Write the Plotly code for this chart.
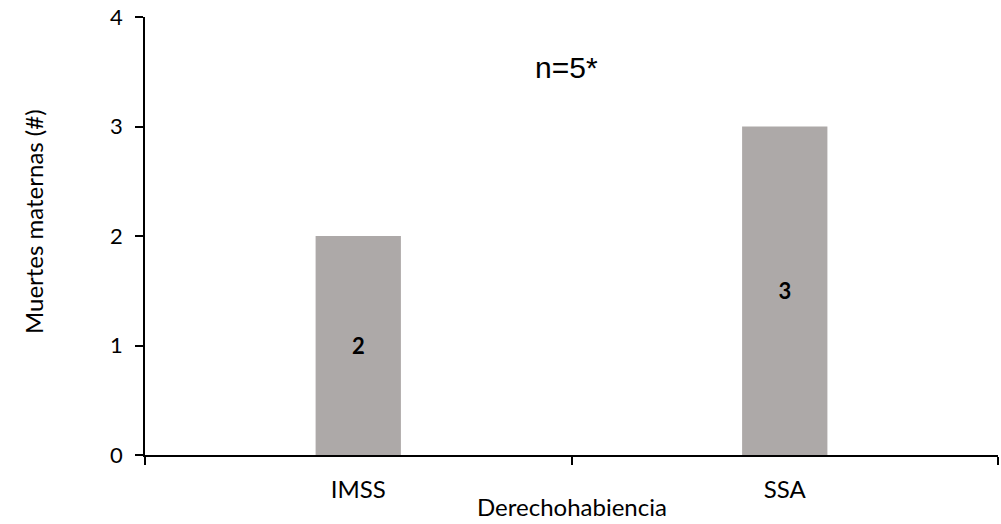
import plotly.graph_objects as go

categories = ["IMSS", "SSA"]
values = [2, 3]
y_ticks = [0, 1, 2, 3, 4]

L, R, T, B = 145, 3, 15, 69
W, H = 1001, 524
PW, PH = W - L - R, H - T - B

def px_x(x):
    return (x - L) / PW

def px_y(y):
    return (H - B - y) / PH

fig = go.Figure()
fig.add_trace(go.Bar(
    x=categories, y=values,
    width=0.2,
    marker=dict(color="#ADA9A8", line=dict(width=0)),
    text=[str(v) for v in values],
    textposition="inside",
    insidetextanchor="middle",
    textangle=0,
    textfont=dict(family="Lato", size=22, color="#000000", weight="bold"),
    hoverinfo="skip",
))

fig.update_layout(
    width=W, height=H,
    margin=dict(l=L, r=R, t=T, b=B),
    paper_bgcolor="white", plot_bgcolor="white",
    showlegend=False,
    font=dict(family="Lato", size=24, color="#000000"),
    xaxis=dict(
        showline=True, linecolor="#000000", linewidth=1.5,
        ticks="outside", ticklen=8, tickcolor="#000000", tickwidth=1.5,
        tickson="boundaries",
        ticklabelstandoff=12,
        tickfont=dict(family="Lato", size=24, color="#000000"),
        showgrid=False, zeroline=False,
    ),
    yaxis=dict(
        range=[0, 4], tickvals=y_ticks,
        showline=True, linecolor="#000000", linewidth=1.5,
        ticks="outside", ticklen=8, tickcolor="#000000", tickwidth=1.5,
        ticklabelstandoff=8,
        tickfont=dict(family="Lato", size=22, color="#000000"),
        showgrid=False, zeroline=False,
    ),
    annotations=[
        dict(text="n=5*", xref="paper", yref="paper", x=px_x(566), y=px_y(66),
             showarrow=False, xanchor="center", yanchor="middle",
             font=dict(family="Liberation Sans", size=30, color="#000000")),
        dict(text="Muertes maternas (#)", xref="paper", yref="paper",
             x=px_x(33), y=px_y(220), textangle=-90,
             showarrow=False, xanchor="center", yanchor="middle",
             font=dict(family="Lato", size=24, color="#000000")),
        dict(text="Derechohabiencia", xref="paper", yref="paper",
             x=px_x(572), y=px_y(507),
             showarrow=False, xanchor="center", yanchor="middle",
             font=dict(family="Lato", size=24, color="#000000")),
    ],
)

fig.write_html("out.html", config={"displayModeBar": False},
               post_script="document.body.style.margin='0';")
